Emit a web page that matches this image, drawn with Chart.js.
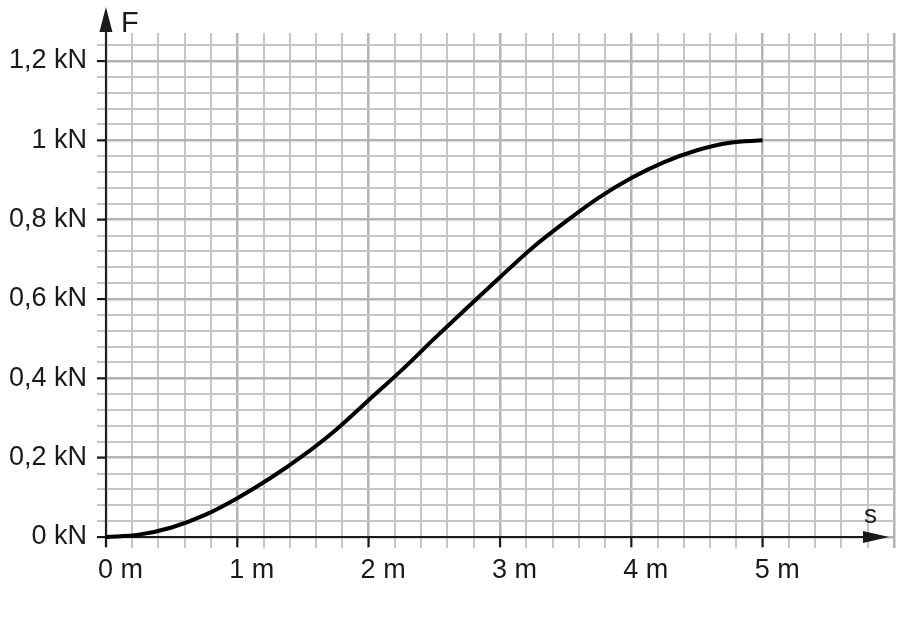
<!DOCTYPE html>
<html>
<head>
<meta charset="utf-8">
<script src="https://cdn.jsdelivr.net/npm/chart.js@4.4.0/dist/chart.umd.min.js"></script>
<style>
  html, body { margin: 0; padding: 0; background: #fff; }
  #wrap { width: 900px; height: 617px; position: relative; }
</style>
</head>
<body>
<div id="wrap"><canvas id="chart"></canvas></div>
<script>
// Kurvendaten F(s)
const sValues = [0, 0.25, 0.5, 0.75, 1, 1.25, 1.5, 1.75, 2, 2.25, 2.5, 2.75, 3, 3.25, 3.5, 3.75, 4, 4.25, 4.5, 4.75, 5];
const fValues = [0, 0.006, 0.024, 0.055, 0.098, 0.148, 0.205, 0.27, 0.345, 0.42, 0.5, 0.578, 0.655, 0.73, 0.795, 0.855, 0.905, 0.945, 0.975, 0.994, 1.0];

// beschriftete Achsenwerte
const xLabelValues = [0, 1, 2, 3, 4, 5];
const xLabels = ['0 m', '1 m', '2 m', '3 m', '4 m', '5 m'];
const yLabelValues = [0, 0.2, 0.4, 0.6, 0.8, 1, 1.2];
const yLabels = ['0 kN', '0,2 kN', '0,4 kN', '0,6 kN', '0,8 kN', '1 kN', '1,2 kN'];

// Kästchenraster: 0,2 m und 0,04 kN
const xGrid = [];
for (let i = 0; i <= 30; i++) xGrid.push(Math.round(i * 2) / 10);
const yGrid = [];
for (let i = 0; i <= 31; i++) yGrid.push(Math.round(i * 4) / 100);

const FONT = '"Liberation Sans", Arial, sans-serif';

function findLabel(values, labels, v) {
    const i = values.findIndex(x => Math.abs(x - v) < 1e-6);
    return i >= 0 ? labels[i] : '';
}

// Achsen mit Pfeilen, Teilstrichen und Beschriftung F / s
const axesPlugin = {
    id: 'axesPlugin',
    beforeDatasetsDraw(chart) {
        const ctx = chart.ctx;
        const xs = chart.scales.x, ys = chart.scales.y;
        const x0 = xs.getPixelForValue(0);
        const y0 = ys.getPixelForValue(0);
        ctx.save();
        ctx.strokeStyle = '#1a1a1a';
        ctx.fillStyle = '#1a1a1a';
        ctx.lineWidth = 2;

        // y-Achse
        ctx.beginPath();
        ctx.moveTo(x0, y0 + 10);
        ctx.lineTo(x0, 28);
        ctx.stroke();
        ctx.beginPath();
        ctx.moveTo(x0, 7);
        ctx.lineTo(x0 - 6.5, 32);
        ctx.lineTo(x0 + 6.5, 32);
        ctx.closePath();
        ctx.fill();

        // x-Achse
        ctx.beginPath();
        ctx.moveTo(x0, y0);
        ctx.lineTo(866, y0);
        ctx.stroke();
        ctx.beginPath();
        ctx.moveTo(889, y0);
        ctx.lineTo(863, y0 - 6);
        ctx.lineTo(863, y0 + 6);
        ctx.closePath();
        ctx.fill();

        // Teilstriche
        yLabelValues.forEach(v => {
            const y = ys.getPixelForValue(v);
            ctx.beginPath();
            ctx.moveTo(x0 - 9, y);
            ctx.lineTo(x0, y);
            ctx.stroke();
        });
        xLabelValues.forEach(v => {
            const x = xs.getPixelForValue(v);
            ctx.beginPath();
            ctx.moveTo(x, y0);
            ctx.lineTo(x, y0 + 10);
            ctx.stroke();
        });

        // Achsenbezeichnungen
        ctx.textAlign = 'left';
        ctx.textBaseline = 'alphabetic';
        ctx.font = '29px ' + FONT;
        ctx.fillText('F', 121, 32);
        ctx.font = '26px ' + FONT;
        ctx.fillText('s', 864, 523);
        ctx.restore();
    }
};

const ctx = document.getElementById('chart').getContext('2d');
new Chart(ctx, {
    type: 'scatter',
    data: {
        datasets: [{
            data: sValues.map((s, i) => ({ x: s, y: fValues[i] })),
            showLine: true,
            borderColor: '#000000',
            borderWidth: 4,
            pointRadius: 0,
            cubicInterpolationMode: 'monotone',
            fill: false
        }]
    },
    options: {
        responsive: true,
        maintainAspectRatio: false,
        animation: false,
        layout: { padding: { top: 33, right: 5, left: 0, bottom: 0 } },
        plugins: {
            legend: { display: false },
            tooltip: { enabled: false }
        },
        scales: {
            x: {
                type: 'linear',
                min: -0.068,
                max: 6.0,
                afterBuildTicks: scale => { scale.ticks = xGrid.map(v => ({ value: v })); },
                afterFit: scale => { scale.height = 69; },
                border: { display: false },
                grid: {
                    drawTicks: false,
                    color: c => (Math.abs(c.tick.value - Math.round(c.tick.value)) < 1e-6 ? '#b4b4b4' : '#c6c6c6'),
                    lineWidth: c => (Math.abs(c.tick.value - Math.round(c.tick.value)) < 1e-6 ? 2.5 : 2)
                },
                ticks: {
                    autoSkip: false,
                    maxRotation: 0,
                    align: 'start',
                    labelOffset: -8,
                    padding: 6,
                    color: '#1a1a1a',
                    font: { family: FONT, size: 27 },
                    callback: v => findLabel(xLabelValues, xLabels, v)
                }
            },
            y: {
                type: 'linear',
                min: -0.0277,
                max: 1.2706,
                afterBuildTicks: scale => { scale.ticks = yGrid.map(v => ({ value: v })); },
                afterFit: scale => { scale.width = 97; },
                border: { display: false },
                grid: {
                    drawTicks: false,
                    color: c => (findLabel(yLabelValues, yLabels, c.tick.value) ? '#b4b4b4' : '#c6c6c6'),
                    lineWidth: c => (findLabel(yLabelValues, yLabels, c.tick.value) ? 2.5 : 2)
                },
                ticks: {
                    autoSkip: false,
                    padding: 10,
                    color: '#1a1a1a',
                    font: { family: FONT, size: 27 },
                    callback: v => findLabel(yLabelValues, yLabels, v)
                }
            }
        }
    },
    plugins: [axesPlugin]
});
</script>
</body>
</html>
